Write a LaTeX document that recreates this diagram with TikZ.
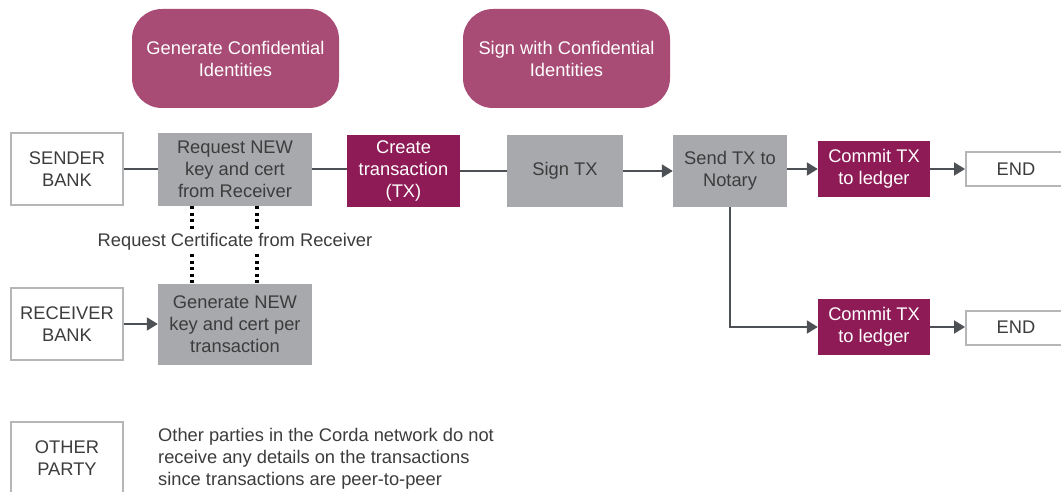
\documentclass[tikz,border=0pt]{standalone}
\usepackage{fontspec}
\setmainfont{Liberation Sans}
\usetikzlibrary{arrows.meta}
\definecolor{boxgray}{HTML}{A7A9AC}
\definecolor{edgegray}{HTML}{B5B6B8}
\definecolor{wine}{HTML}{8E1B56}
\definecolor{rose}{HTML}{A84B75}
\definecolor{linegray}{HTML}{4D5054}
\definecolor{txtgray}{HTML}{3C3C3C}
\begin{document}
\begin{tikzpicture}[x=1pt,y=-1pt,
  font=\fontsize{18.3}{22}\selectfont, text=txtgray,
  party/.style={draw=edgegray, line width=2pt, fill=white, align=center, minimum width=112pt, minimum height=72pt, inner sep=0pt},
  grey/.style={fill=boxgray, align=center, inner sep=0pt},
  wine/.style={fill=wine, text=white, align=center, inner sep=0pt},
  bubble/.style={fill=rose, text=white, align=center, rounded corners=30pt, minimum width=207pt, minimum height=99pt, inner sep=0pt},
  endbox/.style={draw=edgegray, line width=2pt, fill=white, minimum width=100pt, minimum height=34pt, inner sep=0pt},
  link/.style={draw=linegray, line width=2pt},
  arr/.style={link, -{Triangle[length=11pt,width=13pt]}},
  dotline/.style={line width=3.5pt, dash pattern=on 3pt off 3.5pt}]
\useasboundingbox (0,0) rectangle (1061,492);
\node[bubble] (genci) at (235.5,58.5){Generate Confidential\\Identities};
\node[bubble] (signci) at (566.5,58.5){Sign with Confidential\\Identities};
\node[party] (sender) at (67,169.5){SENDER\\BANK};
\node[party] (receiver) at (67,324){RECEIVER\\BANK};
\node[party] (other) at (67,458){OTHER\\PARTY};
\node[grey, minimum width=154pt, minimum height=73pt] (req) at (235,169.5){Request NEW\\key and cert\\from Receiver};
\node[grey, minimum width=154pt, minimum height=81pt] (gen) at (235,324.5){Generate NEW\\key and cert per\\transaction};
\node[wine, minimum width=113pt, minimum height=72pt] (create) at (403.5,171){Create\\transaction\\(TX)};
\node[grey, minimum width=116pt, minimum height=72pt] (sign) at (565,171){Sign TX};
\node[grey, minimum width=114pt, minimum height=72pt] (send) at (730,171){Send TX to\\Notary};
\node[wine, minimum width=112pt, minimum height=56pt] (commit1) at (874,169){Commit TX\\to ledger};
\node[wine, minimum width=112pt, minimum height=56pt] (commit2) at (874,327){Commit TX\\to ledger};
\node[endbox] (end1) at (1016,169.5){END};
\node[endbox] (end2) at (1016,327.5){END};
\node (reqlbl) at (235,242){Request Certificate from Receiver};
\node[align=left, anchor=west, inner sep=0pt] (note) at (158,459){Other parties in the Corda network do not\\receive any details on the transactions\\since transactions are peer-to-peer};
\draw[link] (sender.east) -- (sender.east -| req.west);
\draw[link] (req.east) -- (req.east -| create.west);
\draw[link] (create.east) -- (create.east -| sign.west);
\draw[arr] (sign.east) -- (sign.east -| send.west);
\draw[arr] (send.east |- commit1) -- (commit1.west);
\draw[arr] (commit1.east) -- (commit1.east -| end1.west);
\draw[arr] (send.south) |- (commit2.west);
\draw[arr] (commit2.east) -- (commit2.east -| end2.west);
\draw[arr] (receiver.east) -- (receiver.east -| gen.west);
\draw[dotline] ([xshift=-43pt]req.south) -- ([xshift=-43pt]req.south |- reqlbl.north);
\draw[dotline] ([xshift=22pt]req.south) -- ([xshift=22pt]req.south |- reqlbl.north);
\draw[dotline] ([xshift=-43pt]gen.north |- reqlbl.south) -- ([xshift=-43pt]gen.north);
\draw[dotline] ([xshift=22pt]gen.north |- reqlbl.south) -- ([xshift=22pt]gen.north);
\end{tikzpicture}
\end{document}
